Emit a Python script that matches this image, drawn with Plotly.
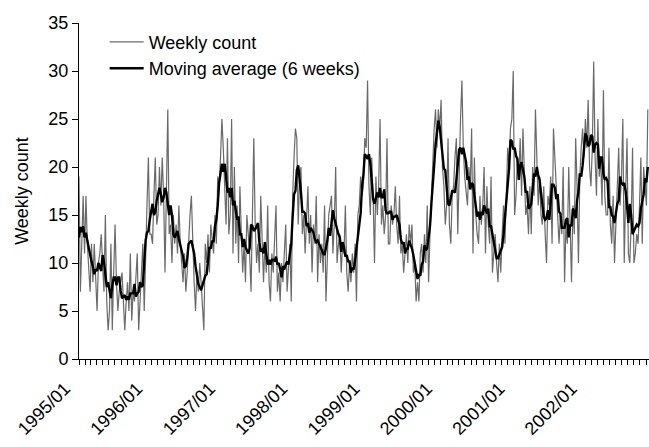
import pandas as pd
import plotly.graph_objects as go

# Weekly counts (one value per week, starting first week of Jan 1995)
counts_1995 = [19, 7, 12, 17, 11, 17, 12, 10, 7, 12, 8, 12, 9, 5, 10, 11, 13, 9, 7, 15,
               6, 3, 5, 12, 3, 9, 14, 8, 5, 7, 8, 9, 6, 3, 6, 8, 5, 11, 4, 7,
               6, 8, 11, 3, 6, 8, 12, 5, 12, 16, 21, 13]
counts_1996 = [13, 12, 17, 21, 14, 15, 20, 16, 21, 17, 9, 18, 26, 13, 14, 10, 15, 12, 14, 11,
               16, 12, 10, 8, 11, 7, 9, 13, 15, 17, 12, 8, 5, 9, 7, 10, 8, 6, 3, 12,
               10, 13, 9, 14, 12, 11, 15, 12, 19, 18, 21, 25]
counts_1997 = [22, 17, 14, 23, 13, 15, 25, 11, 20, 12, 16, 10, 18, 13, 9, 12, 8, 15, 13, 11,
               7, 15, 23, 14, 10, 12, 9, 17, 11, 8, 12, 9, 16, 8, 6, 11, 9, 12, 16, 7,
               9, 6, 10, 8, 11, 14, 7, 9, 12, 6, 17, 21]
counts_1998 = [24, 23, 14, 19, 20, 13, 15, 11, 14, 18, 12, 15, 9, 14, 12, 17, 8, 13, 10, 12,
               9, 16, 6, 12, 15, 16, 17, 11, 14, 20, 10, 12, 13, 9, 12, 11, 16, 9, 7, 10,
               8, 11, 9, 12, 6, 15, 16, 19, 17, 18, 23, 22, 29]
counts_1999 = [18, 15, 21, 17, 10, 19, 15, 18, 25, 14, 16, 13, 15, 23, 12, 12, 16, 14, 15, 18,
               14, 12, 17, 11, 12, 9, 11, 13, 10, 14, 12, 14, 9, 10, 6, 8, 6, 11, 12, 9,
               13, 10, 16, 8, 13, 17, 19, 24, 26, 22, 26, 24]
counts_2000 = [27, 20, 18, 14, 16, 23, 14, 12, 17, 18, 21, 23, 13, 20, 25, 29, 22, 19, 17, 16,
               20, 18, 24, 11, 21, 15, 13, 12, 17, 14, 16, 20, 11, 18, 14, 12, 19, 9, 11, 13,
               10, 8, 12, 9, 13, 16, 12, 16, 22, 20, 24, 25]
counts_2001 = [30, 15, 17, 21, 19, 23, 17, 24, 19, 15, 16, 13, 18, 13, 20, 17, 26, 22, 16, 19,
               15, 14, 18, 13, 10, 17, 16, 19, 12, 24, 21, 17, 14, 12, 15, 13, 20, 8, 14, 12,
               20, 14, 8, 16, 13, 23, 18, 10, 19, 22, 24, 21]
counts_2002 = [25, 22, 27, 20, 18, 22, 31, 21, 17, 25, 19, 21, 16, 28, 17, 15, 15, 22, 14, 12,
               17, 10, 14, 18, 22, 16, 19, 25, 10, 17, 23, 11, 10, 14, 22, 10, 11, 13, 12, 16,
               21, 12, 20, 18, 16, 26]

weekly = (counts_1995 + counts_1996 + counts_1997 + counts_1998 +
          counts_1999 + counts_2000 + counts_2001 + counts_2002)

start_date = "1995-01-01"
weeks = pd.date_range(start_date, periods=len(weekly), freq="7D")
moving_avg = pd.Series(weekly).rolling(6, center=True, min_periods=1).mean()

y_ticks = [0, 5, 10, 15, 20, 25, 30, 35]
legend_names = ["Weekly count", "Moving average (6 weeks)"]
y_title = "Weekly count"

FONT = "Liberation Sans, Arial, Helvetica, sans-serif"

fig = go.Figure()
fig.add_trace(go.Scatter(x=weeks, y=weekly, mode="lines", name=legend_names[0],
                         line=dict(color="#6a6a6a", width=1.2)))
fig.add_trace(go.Scatter(x=weeks, y=moving_avg, mode="lines", name=legend_names[1],
                         line=dict(color="#000000", width=2.4)))

fig.update_layout(
    width=649, height=447,
    margin=dict(l=79, r=0, t=23, b=88, autoexpand=False),
    paper_bgcolor="white", plot_bgcolor="white",
    font=dict(family=FONT, size=18, color="black"),
    showlegend=True,
    legend=dict(x=0.045, y=0.998, xanchor="left", yanchor="top",
                bgcolor="rgba(0,0,0,0)", font=dict(size=18),
                itemwidth=34, tracegroupgap=0),
    xaxis=dict(
        range=["1995-01-01", "2002-11-16"],
        type="date", automargin=False,
        showgrid=False, zeroline=False,
        showline=True, linecolor="black", linewidth=1,
        ticks="outside", ticklen=5, tickwidth=1, tickcolor="black",
        dtick="M12", tick0="1995-01-01", tickformat="%Y/%m",
        tickangle=-45, tickfont=dict(size=18),
        ticklabelshift=-14, ticklabelstandoff=6,
        minor=dict(dtick="M1", tick0="1995-01-01", ticks="outside", ticklen=5,
                   tickwidth=1, tickcolor="black", showgrid=False),
    ),
    yaxis=dict(
        range=[0, 35], automargin=False,
        tickvals=y_ticks,
        showgrid=False, zeroline=False,
        showline=True, linecolor="black", linewidth=1,
        ticks="outside", ticklen=6, tickwidth=1, tickcolor="black",
        tickfont=dict(size=18),
        title=dict(text=y_title, font=dict(size=18), standoff=15),
    ),
)

fig.write_html("out.html",
               config={"displayModeBar": False},
               post_script="document.body.style.margin='0px';document.body.style.overflow='hidden';")
